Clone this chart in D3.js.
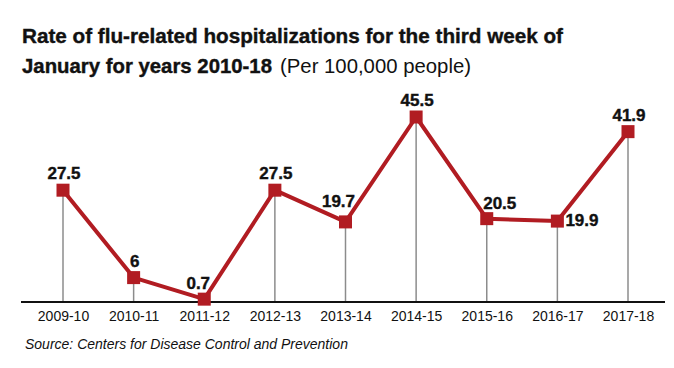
<!DOCTYPE html>
<html>
<head>
<meta charset="utf-8">
<script src="https://cdn.jsdelivr.net/npm/d3@7"></script>
<style>
  body { margin: 0; background: #fff; }
  svg { font-family: "Liberation Sans", Arial, sans-serif; }
</style>
</head>
<body>
<div id="chart"></div>
<script>
// Data
const seasons = ['2009-10', '2010-11', '2011-12', '2012-13', '2013-14', '2014-15', '2015-16', '2016-17', '2017-18'];
const rates = [27.5, 6, 0.7, 27.5, 19.7, 45.5, 20.5, 19.9, 41.9];
const labels = ['27.5', '6', '0.7', '27.5', '19.7', '45.5', '20.5', '19.9', '41.9'];

const width = 674, height = 368;
const red = '#b11c22';

const svg = d3.select('#chart')
    .append('svg')
    .attr('width', width)
    .attr('height', height);

// Title (two lines, bold + regular unit note)
svg.append('text')
    .attr('x', 22).attr('y', 43)
    .attr('font-size', 20.5)
    .attr('font-weight', 'bold')
    .attr('fill', '#111').attr('stroke', '#111').attr('stroke-width', 0.4)
    .attr('textLength', 541).attr('lengthAdjust', 'spacingAndGlyphs')
    .text('Rate of flu-related hospitalizations for the third week of');
svg.append('text')
    .attr('x', 22).attr('y', 73)
    .attr('font-size', 20.5)
    .attr('font-weight', 'bold')
    .attr('fill', '#111').attr('stroke', '#111').attr('stroke-width', 0.4)
    .attr('textLength', 250).attr('lengthAdjust', 'spacingAndGlyphs')
    .text('January for years 2010-18');
svg.append('text')
    .attr('x', 280).attr('y', 73)
    .attr('font-size', 20.5)
    .attr('fill', '#111')
    .attr('textLength', 191).attr('lengthAdjust', 'spacingAndGlyphs')
    .text('(Per 100,000 people)');

// Scales
const x = d3.scalePoint()
    .domain(seasons)
    .range([63, 628]);

const y = d3.scaleLinear()
    .domain([0, 45.5])
    .range([302, 117]);

// Drop lines
svg.append('g')
    .selectAll('line')
    .data(rates)
    .join('line')
    .attr('x1', (d, i) => x(seasons[i]))
    .attr('x2', (d, i) => x(seasons[i]))
    .attr('y1', d => y(d))
    .attr('y2', y(0))
    .attr('stroke', '#8c8c8c')
    .attr('stroke-width', 1.5);

// X axis
const xAxis = d3.axisBottom(x).tickSize(0).tickPadding(9);
const gx = svg.append('g')
    .attr('transform', `translate(0,${y(0)})`)
    .call(xAxis);
gx.select('.domain').remove();
gx.append('line')
    .attr('x1', 21).attr('x2', 665)
    .attr('stroke', '#111').attr('stroke-width', 2);
gx.selectAll('text')
    .attr('font-size', 14)
    .attr('font-family', '"Liberation Sans", Arial, sans-serif')
    .attr('fill', '#111');

// Line
const line = d3.line()
    .x((d, i) => x(seasons[i]))
    .y(d => y(d));

svg.append('path')
    .datum(rates)
    .attr('d', line)
    .attr('fill', 'none')
    .attr('stroke', red)
    .attr('stroke-width', 4)
    .attr('stroke-linejoin', 'round');

// Markers
svg.append('g')
    .selectAll('rect')
    .data(rates)
    .join('rect')
    .attr('x', (d, i) => x(seasons[i]) - 6.5)
    .attr('y', d => y(d) - 6.5)
    .attr('width', 13)
    .attr('height', 13)
    .attr('fill', red);

// Value labels (a few nudged to clear the line, as in the original)
const nudge = { 2: [-6, 1], 4: [-7, -4], 6: [13, 1], 7: [8, 16] };
svg.append('g')
    .selectAll('text')
    .data(rates)
    .join('text')
    .attr('x', (d, i) => x(seasons[i]) + (nudge[i] ? nudge[i][0] : 1))
    .attr('y', (d, i) => y(d) - 11 + (nudge[i] ? nudge[i][1] : 0))
    .attr('text-anchor', (d, i) => i === 7 ? 'start' : 'middle')
    .attr('font-size', 17)
    .attr('font-weight', 'bold')
    .attr('fill', '#111').attr('stroke', '#111').attr('stroke-width', 0.4)
    .text((d, i) => labels[i]);

// Source
svg.append('text')
    .attr('x', 25)
    .attr('y', 349)
    .attr('font-size', 14)
    .attr('font-style', 'italic')
    .attr('fill', '#111')
    .text('Source: Centers for Disease Control and Prevention');
</script>
</body>
</html>
